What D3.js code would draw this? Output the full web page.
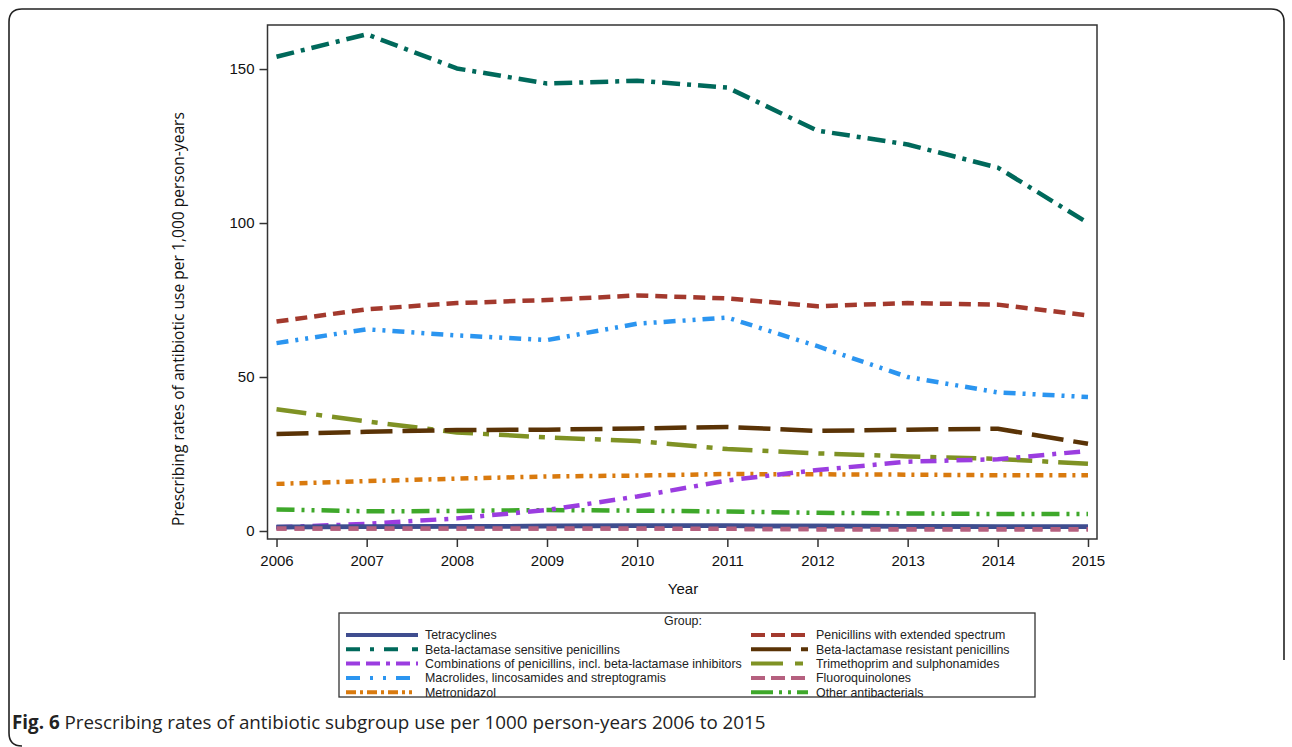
<!DOCTYPE html>
<html><head><meta charset="utf-8">
<script src="https://cdn.jsdelivr.net/npm/d3@7"></script>
<style>body{margin:0;background:#fff}svg{display:block}</style>
</head><body>
<svg id="c" width="1292" height="747"></svg>
<script>
const years = [2006,2007,2008,2009,2010,2011,2012,2013,2014,2015];
const yTicks = [0,50,100,150];
const seriesNames = [
  "Tetracyclines",
  "Penicillins with extended spectrum",
  "Beta-lactamase sensitive penicillins",
  "Beta-lactamase resistant penicillins",
  "Combinations of penicillins, incl. beta-lactamase inhibitors",
  "Trimethoprim and sulphonamides",
  "Macrolides, lincosamides and streptogramis",
  "Fluoroquinolones",
  "Metronidazol",
  "Other antibacterials"
];
const tetracyclines = [1.3,1.4,1.5,1.6,1.7,1.7,1.6,1.5,1.4,1.4];
const penicillinsExtended = [68,72,74,75,76.5,75.5,73,74,73.5,70];
const betaSensitive = [154,161.3,150.2,145.3,146.2,144,130,125.5,118,100];
const betaResistant = [31.5,32.2,32.8,32.9,33.3,33.8,32.5,32.9,33.2,28.3];
const combinations = [1.2,2.3,4.1,6.8,11.2,16.4,19.8,22.5,23.3,26];
const trimethoprim = [39.5,35.6,32,30.4,29.2,26.6,25.2,24.2,23.4,21.8];
const macrolides = [61,65.5,63.5,62,67.3,69.3,60,50,45,43.5];
const fluoroquinolones = [0.8,0.8,0.8,0.8,0.8,0.7,0.6,0.6,0.6,0.6];
const metronidazol = [15.3,16.2,17,17.7,18,18.5,18.4,18.3,18.1,18.1];
const otherAntibacterials = [7.0,6.4,6.5,6.8,6.6,6.3,5.9,5.7,5.5,5.5];
const seriesValues = [tetracyclines,penicillinsExtended,betaSensitive,betaResistant,combinations,trimethoprim,macrolides,fluoroquinolones,metronidazol,otherAntibacterials];
const colors = ["#3f4d8f","#a3392d","#00695b","#5a3306","#9b3de0","#7f9224","#2b95f0","#b5607f","#d97a0e","#3ea82a"];
const dashes = ["none","12,7","18,7,4,7","32,10","16,8,4,8","30,10,6,10","12,7,3,7,3,7","10,8","8,6,3,6","18,7,3,7,3,7"];
const legendDashes = ["none","14,6,14,6,14,6,4,6","14,10,4,10,14","40,10,40","14,6,14,6,4,6,14,6,4","32,12,8,12,3","14,10,3,10,3,10,14","14,6,14,6,14,6,4","10,4,3,4,10,4,3,4,10,4,3,4,3","22,6,3,6,3,6,22"];

const svg = d3.select("#c");
svg.append("path")
  .attr("d","M1284,660 L1284,22 Q1284,9 1271,9 L22,9 Q9,9 9,22 L9,733 Q9,746 22,746")
  .attr("fill","none").attr("stroke","#222").attr("stroke-width",1.6);

const x = d3.scaleLinear().domain([2005.9,2015.1]).range([267.5,1097]);
const y = d3.scaleLinear().domain([-2.6,164.3]).range([539,25]);

svg.append("rect").attr("x",x(2005.9)).attr("y",y(164.3))
  .attr("width",x(2015.1)-x(2005.9)).attr("height",y(-2.6)-y(164.3))
  .attr("fill","none").attr("stroke","#333").attr("stroke-width",1.5);

const gx = svg.append("g").attr("transform",`translate(0,${y(-2.6)})`)
  .call(d3.axisBottom(x).tickValues(years).tickFormat(d3.format("d")).tickSize(8).tickPadding(8));
const gy = svg.append("g").attr("transform",`translate(${x(2005.9)},0)`)
  .call(d3.axisLeft(y).tickValues(yTicks).tickSize(8).tickPadding(5));
[gx,gy].forEach(g=>{
  g.select(".domain").remove();
  g.selectAll("line").attr("stroke","#333").attr("stroke-width",1.5);
  g.selectAll("text").attr("font-family","Liberation Sans, Arial, sans-serif").attr("font-size",15).attr("fill","#111");
});

svg.append("text").attr("x",683).attr("y",594).attr("text-anchor","middle")
  .attr("font-family","Liberation Sans, Arial, sans-serif").attr("font-size",15).attr("fill","#111").text("Year");
svg.append("text").attr("transform","translate(184,319) rotate(-90)").attr("text-anchor","middle")
  .attr("font-family","Open Sans, Noto Sans, sans-serif").attr("font-size",15.6).attr("fill","#111")
  .text("Prescribing rates of antibiotic use per 1,000 person-years");

const line = d3.line().x((d,i)=>x(years[i])).y(d=>y(d));
const order = [9,8,7,6,5,4,3,2,1,0];
order.forEach(k=>{
  svg.append("path").datum(seriesValues[k]).attr("d",line)
    .attr("fill","none").attr("stroke",colors[k]).attr("stroke-width",4.5)
    .attr("stroke-dasharray",dashes[k]).attr("stroke-linejoin","round");
});
[0,7].forEach(k=>{
  svg.append("path").datum(seriesValues[k]).attr("d",line)
    .attr("fill","none").attr("stroke",colors[k]).attr("stroke-width",4.5)
    .attr("stroke-dasharray",dashes[k]);
});

const lg = svg.append("g");
lg.append("rect").attr("x",339).attr("y",613).attr("width",696).attr("height",84)
  .attr("fill","#fff").attr("stroke","#333").attr("stroke-width",1.3);
lg.append("text").attr("x",683).attr("y",625).attr("text-anchor","middle")
  .attr("font-family","Liberation Sans, Arial, sans-serif").attr("font-size",12.4).attr("fill","#222").text("Group:");
seriesNames.forEach((name,i)=>{
  const col = i%2, row = Math.floor(i/2);
  const yy = 635 + row*14.3;
  const x0 = col===0 ? 346 : 751;
  const x1 = col===0 ? 418 : 808;
  lg.append("line").attr("x1",x0).attr("x2",x1).attr("y1",yy).attr("y2",yy)
    .attr("stroke",colors[i]).attr("stroke-width",4).attr("stroke-dasharray",legendDashes[i]);
  lg.append("text").attr("x",col===0?425:816).attr("y",yy+4.3)
    .attr("font-family","Liberation Sans, Arial, sans-serif").attr("font-size",12.4).attr("fill","#222").text(name);
});

const cap = svg.append("text").attr("x",12).attr("y",729)
  .attr("font-family","Open Sans, Noto Sans, sans-serif").attr("font-size",18.8).attr("fill","#222");
cap.append("tspan").attr("font-weight","bold").text("Fig. 6");
cap.append("tspan").text(" Prescribing rates of antibiotic subgroup use per 1000 person-years 2006 to 2015");
</script>
</body></html>
